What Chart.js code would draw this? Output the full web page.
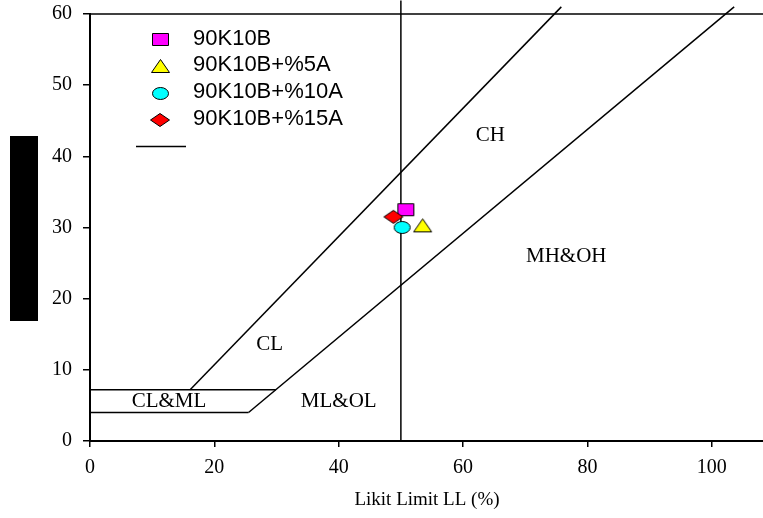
<!DOCTYPE html>
<html>
<head>
<meta charset="utf-8">
<script src="https://cdn.jsdelivr.net/npm/chart.js@4/dist/chart.umd.min.js"></script>
<style>
  html, body { margin: 0; padding: 0; background: #fff; }
  #wrap { position: relative; width: 763px; height: 518px; overflow: hidden; }
  #chart { position: absolute; left: 0; top: -9px; }
  #redact { position: absolute; left: 10px; top: 136px; width: 28px; height: 185px; background: #000; }
</style>
</head>
<body>
<div id="wrap">
  <canvas id="chart" width="769" height="527"></canvas>
  <div id="redact"></div>
</div>
<script>
// samples (liquid limit LL, plasticity index PI)
const sampleNames = ['90K10B', '90K10B+%5A', '90K10B+%10A', '90K10B+%15A'];
const sampleLL = [50.8, 53.5, 50.2, 48.8];
const samplePI = [32.5, 30.3, 30.0, 31.5];
const sampleColors = ['#ff00ff', '#ffff00', '#00ffff', '#ff0000'];
const sampleShapes = ['rect', 'triangle', 'ellipse', 'diamond'];

// chart boundary lines
const aLineLL = [25.5, 103.6];
const aLinePI = [4, 61];
const uLineLL = [16.1, 75.8];
const uLinePI = [7.2, 61];
const bandTopLL = [0, 29.9];
const bandTopPI = [7.2, 7.2];
const bandLowLL = [0, 25.5];
const bandLowPI = [4, 4];
const llFiftyLL = [50, 50];
const llFiftyPI = [0, 61.9];
const frameLL = [0, 108.4];
const framePI = [60, 60];

// zone labels
const zoneNames = ['CH', 'MH&OH', 'CL', 'CL&ML', 'ML&OL'];
const zoneLL = [64.4, 76.6, 28.9, 12.7, 40.0];
const zonePI = [42.9, 25.9, 13.6, 5.5, 5.5];

const xTicks = [0, 20, 40, 60, 80, 100];
const yTicks = [0, 10, 20, 30, 40, 50, 60];

const sizes = { rect: [17, 13], triangle: [19, 14], ellipse: [17, 13], diamond: [20, 14] };

function marker(shape, fill) {
    const w = sizes[shape][0], h = sizes[shape][1];
    const c = document.createElement('canvas');
    c.width = w + 2;
    c.height = h + 2;
    const g = c.getContext('2d');
    g.translate(1, 1);
    g.beginPath();
    if (shape === 'rect') {
        g.rect(0.5, 0.5, w - 1, h - 1);
    } else if (shape === 'triangle') {
        g.moveTo(w / 2, 0.5);
        g.lineTo(w - 0.5, h - 0.5);
        g.lineTo(0.5, h - 0.5);
        g.closePath();
    } else if (shape === 'ellipse') {
        g.ellipse(w / 2, h / 2, w / 2 - 0.5, h / 2 - 0.5, 0, 0, Math.PI * 2);
    } else {
        g.moveTo(w / 2, 0.5);
        g.lineTo(w - 0.5, h / 2);
        g.lineTo(w / 2, h - 0.5);
        g.lineTo(0.5, h / 2);
        g.closePath();
    }
    g.fillStyle = fill;
    g.fill();
    g.lineWidth = 1;
    g.strokeStyle = '#000';
    g.stroke();
    return c;
}

const markers = sampleShapes.map((s, i) => marker(s, sampleColors[i]));

function seg(xs, ys) {
    return xs.map((x, i) => ({ x: x, y: ys[i] }));
}

function lineSet(xs, ys) {
    return {
        data: seg(xs, ys),
        showLine: true,
        borderColor: '#000',
        borderWidth: 1.5,
        pointRadius: 0,
        pointHoverRadius: 0,
        clip: false,
        order: 10
    };
}

const datasets = [
    lineSet(frameLL, framePI),
    lineSet(aLineLL, aLinePI),
    lineSet(uLineLL, uLinePI),
    lineSet(bandTopLL, bandTopPI),
    lineSet(bandLowLL, bandLowPI),
    lineSet(llFiftyLL, llFiftyPI)
];

sampleNames.forEach((name, i) => {
    datasets.push({
        label: name,
        data: [{ x: sampleLL[i], y: samplePI[i] }],
        pointStyle: markers[i],
        order: 4 - i
    });
});

const extras = {
    id: 'extras',
    afterDatasetsDraw(chart) {
        const { ctx, chartArea } = chart;
        const x = chart.scales.x, y = chart.scales.y;
        ctx.save();
        ctx.fillStyle = '#000';
        ctx.textAlign = 'center';
        ctx.textBaseline = 'middle';
        ctx.font = '21px "Liberation Serif"';
        zoneNames.forEach((t, i) => {
            ctx.fillText(t, x.getPixelForValue(zoneLL[i]), y.getPixelForValue(zonePI[i]));
        });

        // legend inside the plot
        const mx = chartArea.left + 70;
        const top = chartArea.top + 24.5;
        const step = 26.8;
        ctx.textAlign = 'left';
        ctx.font = '22px "Liberation Sans"';
        markers.forEach((m, i) => {
            const cy = top + i * step;
            ctx.drawImage(m, Math.round(mx - m.width / 2), Math.round(cy + 1 - m.height / 2));
            ctx.fillText(sampleNames[i], chartArea.left + 103, cy);
        });
        const ly = Math.round(top + 4 * step) + 0.5;
        ctx.beginPath();
        ctx.moveTo(chartArea.left + 46, ly);
        ctx.lineTo(chartArea.left + 96, ly);
        ctx.lineWidth = 1.5;
        ctx.strokeStyle = '#000';
        ctx.stroke();
        ctx.restore();
    }
};

new Chart(document.getElementById('chart'), {
    type: 'scatter',
    data: { datasets: datasets },
    plugins: [extras],
    options: {
        responsive: false,
        animation: false,
        layout: { padding: { top: 13, right: 0, left: 0, bottom: 0 } },
        plugins: {
            legend: { display: false },
            tooltip: { enabled: false }
        },
        scales: {
            x: {
                type: 'linear',
                min: 0,
                max: 108.4,
                afterBuildTicks: s => { s.ticks = xTicks.map(v => ({ value: v })); },
                afterFit: s => { s.height = 77; },
                grid: { display: true, drawOnChartArea: false, drawTicks: true, tickLength: 6, color: '#000', lineWidth: 1.5 },
                border: { display: true, color: '#000', width: 2 },
                ticks: { color: '#000', padding: 9, maxRotation: 0, font: { family: 'Liberation Serif', size: 20 } },
                title: {
                    display: true,
                    text: 'Likit Limit LL (%)',
                    color: '#000',
                    padding: { top: 0, bottom: 7 },
                    font: { family: 'Liberation Serif', size: 19 }
                }
            },
            y: {
                type: 'linear',
                min: 0,
                max: 60,
                afterBuildTicks: s => { s.ticks = yTicks.map(v => ({ value: v })); },
                afterFit: s => { s.width = 90; },
                grid: { display: true, drawOnChartArea: false, drawTicks: true, tickLength: 7, color: '#000', lineWidth: 1.5 },
                border: { display: true, color: '#000', width: 2 },
                ticks: { color: '#000', padding: 11, font: { family: 'Liberation Serif', size: 20 } }
            }
        }
    }
});
</script>
</body>
</html>
